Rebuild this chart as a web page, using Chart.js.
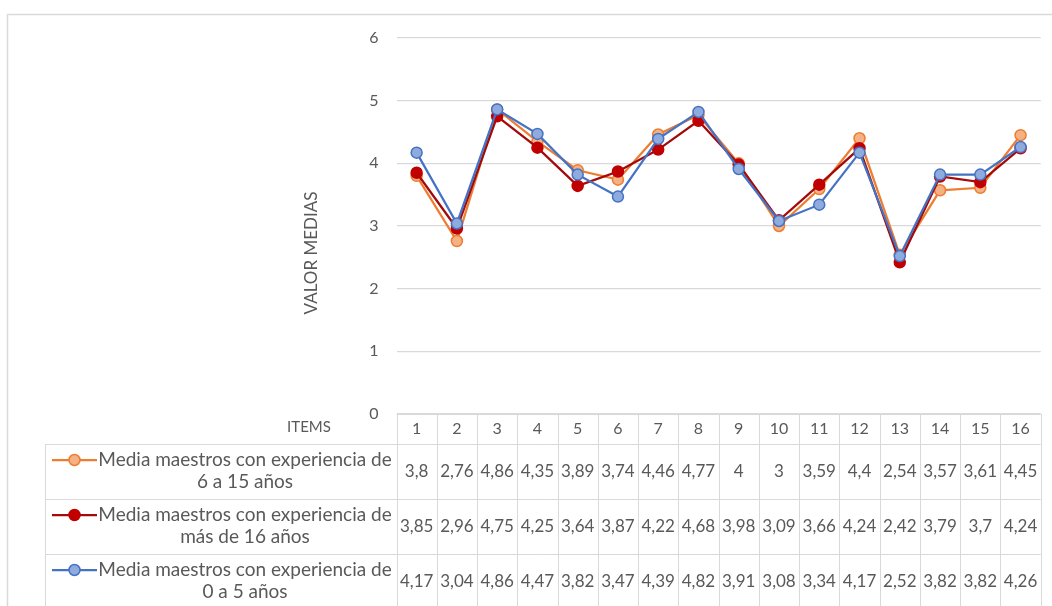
<!DOCTYPE html>
<html>
<head>
<meta charset="utf-8">
<script src="https://cdn.jsdelivr.net/npm/chart.js@4.4.1/dist/chart.umd.min.js"></script>
<style>
  html, body { margin: 0; padding: 0; background: #ffffff; }
</style>
</head>
<body>
<canvas id="chart" width="1052" height="606"></canvas>
<script>
const items = ['1', '2', '3', '4', '5', '6', '7', '8', '9', '10', '11', '12', '13', '14', '15', '16'];
const exp6a15 = [3.8, 2.76, 4.86, 4.35, 3.89, 3.74, 4.46, 4.77, 4, 3, 3.59, 4.4, 2.54, 3.57, 3.61, 4.45];
const expMas16 = [3.85, 2.96, 4.75, 4.25, 3.64, 3.87, 4.22, 4.68, 3.98, 3.09, 3.66, 4.24, 2.42, 3.79, 3.7, 4.24];
const exp0a5 = [4.17, 3.04, 4.86, 4.47, 3.82, 3.47, 4.39, 4.82, 3.91, 3.08, 3.34, 4.17, 2.52, 3.82, 3.82, 4.26];
const seriesNames = [
    ['Media maestros con experiencia de', '6 a 15 años'],
    ['Media maestros con experiencia de', 'más de 16 años'],
    ['Media maestros con experiencia de', '0 a 5 años']
];
const yTitle = 'VALOR MEDIAS';
const xTitle = 'ITEMS';

const textColor = '#595959';
const gridColor = '#d9d9d9';
const font = 'Lato';

const fmt = (v) => String(v).replace('.', ',');

// draws the outer frame, the axis titles and the Excel-style data table
const tablePlugin = {
    id: 'dataTable',
    beforeDraw(chart) {
        const ctx = chart.ctx;
        ctx.save();
        ctx.strokeStyle = gridColor;
        ctx.lineWidth = 1.5;
        ctx.strokeRect(7.5, 14.5, chart.width + 20, chart.height + 20);
        ctx.restore();
    },
    afterDraw(chart) {
        const ctx = chart.ctx;
        const area = chart.chartArea;
        const xScale = chart.scales.x;
        const n = items.length;
        const colW = (area.right - area.left) / n;
        const top = area.bottom;
        const headH = 30, rowH = 55, legendLeft = 45;
        const bottom = chart.height + 5;

        ctx.save();
        ctx.strokeStyle = gridColor;
        ctx.lineWidth = 1;
        ctx.beginPath();
        for (let i = 0; i <= n; i++) {
            const x = Math.round(area.left + i * colW) + 0.5;
            ctx.moveTo(x, top);
            ctx.lineTo(x, bottom);
        }
        ctx.moveTo(legendLeft + 0.5, top + headH);
        ctx.lineTo(legendLeft + 0.5, bottom);
        ctx.moveTo(area.left, top + 0.5);
        ctx.lineTo(area.right, top + 0.5);
        for (let r = 0; r < 3; r++) {
            const y = Math.round(top + headH + r * rowH) + 0.5;
            ctx.moveTo(legendLeft, y);
            ctx.lineTo(area.right, y);
        }
        ctx.stroke();

        ctx.fillStyle = textColor;
        ctx.textAlign = 'center';
        ctx.textBaseline = 'middle';
        ctx.font = `16px ${font}`;
        items.forEach((lab, i) => {
            ctx.fillText(lab, xScale.getPixelForValue(i), top + headH / 2);
        });
        ctx.font = `15px ${font}`;
        ctx.fillText(xTitle, 309, top + 13);

        chart.data.datasets.forEach((ds, r) => {
            const rowTop = top + headH + r * rowH;
            ctx.font = `17px ${font}`;
            ctx.fillStyle = textColor;
            ds.data.forEach((v, i) => {
                ctx.fillText(fmt(v), xScale.getPixelForValue(i), rowTop + rowH / 2);
            });

            // legend key
            const ky = rowTop + 16;
            ctx.strokeStyle = ds.borderColor;
            ctx.lineWidth = 2.25;
            ctx.beginPath();
            ctx.moveTo(52, ky);
            ctx.lineTo(97, ky);
            ctx.stroke();
            ctx.beginPath();
            ctx.arc(74.5, ky, 5.5, 0, Math.PI * 2);
            ctx.fillStyle = ds.pointBackgroundColor;
            ctx.fill();
            ctx.lineWidth = 1.5;
            ctx.strokeStyle = ds.pointBorderColor;
            ctx.stroke();

            ctx.fillStyle = textColor;
            ctx.font = `19px ${font}`;
            ctx.fillText(seriesNames[r][0], 245, rowTop + 16);
            ctx.fillText(seriesNames[r][1], 245, rowTop + 38);
        });

        ctx.translate(312, 253);
        ctx.rotate(-Math.PI / 2);
        ctx.font = `17px ${font}`;
        ctx.fillStyle = textColor;
        ctx.fillText(yTitle, 0, 0);
        ctx.restore();
    }
};

const lineStyle = {
    borderWidth: 2.25,
    pointRadius: 5.5,
    pointHoverRadius: 5.5,
    pointBorderWidth: 1.5,
    tension: 0,
    fill: false
};

new Chart(document.getElementById('chart'), {
    type: 'line',
    data: {
        labels: items,
        datasets: [
            {
                ...lineStyle,
                label: seriesNames[0].join(' '),
                data: exp6a15,
                borderColor: '#ed7d31',
                backgroundColor: '#f4b183',
                pointBackgroundColor: '#f4b183',
                pointBorderColor: '#ed7d31',
                order: 2
            },
            {
                ...lineStyle,
                label: seriesNames[1].join(' '),
                data: expMas16,
                borderColor: '#a50a0a',
                backgroundColor: '#c00000',
                pointBackgroundColor: '#c00000',
                pointBorderColor: '#c00000',
                order: 1
            },
            {
                ...lineStyle,
                label: seriesNames[2].join(' '),
                data: exp0a5,
                borderColor: '#4472c4',
                backgroundColor: '#8faadc',
                pointBackgroundColor: '#8faadc',
                pointBorderColor: '#4472c4',
                order: 0
            }
        ]
    },
    options: {
        responsive: false,
        animation: false,
        devicePixelRatio: 1,
        layout: { padding: { left: 296, right: 11.3, top: 38, bottom: 192 } },
        plugins: {
            legend: { display: false },
            tooltip: { enabled: false }
        },
        scales: {
            x: { display: false, offset: true },
            y: {
                min: 0,
                max: 6,
                ticks: { stepSize: 1, padding: 18, color: textColor, font: { family: font, size: 16 } },
                grid: { color: gridColor, drawTicks: false, lineWidth: 1.2 },
                border: { display: false },
                afterFit(scale) { scale.width = 100.5; }
            }
        }
    },
    plugins: [tablePlugin]
});
</script>
</body>
</html>
